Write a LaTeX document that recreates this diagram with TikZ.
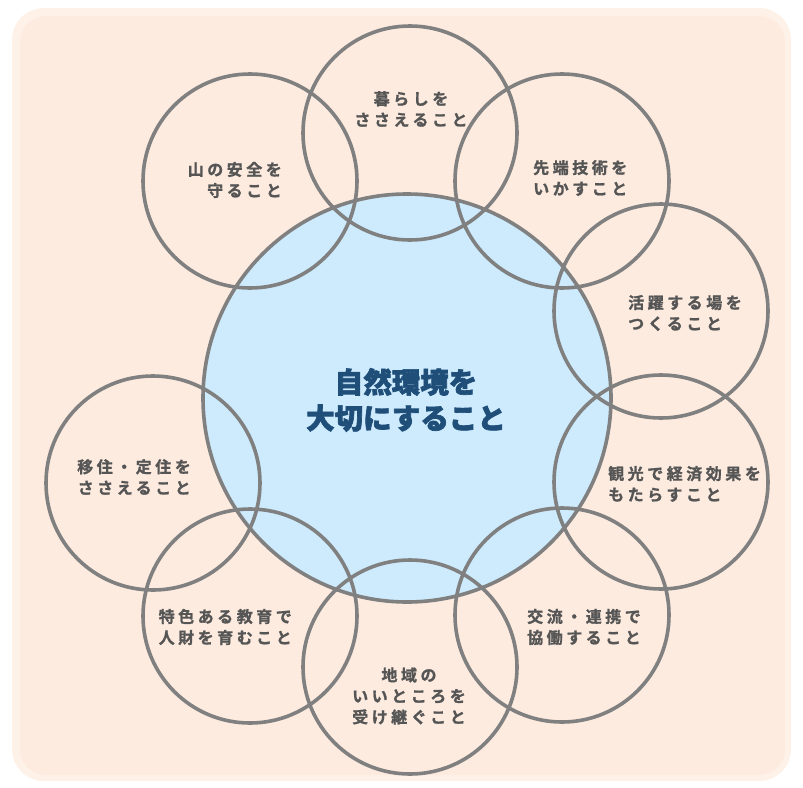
\documentclass[tikz,border=0pt]{standalone}
\usepackage{fontspec}
\newfontfamily\jplbl{Noto Sans CJK JP Bold}[FakeBold=1.2,LetterSpace=22]
\newfontfamily\jpttl{Noto Sans CJK JP Black}[FakeBold=2.4]
\definecolor{bgpeach}{HTML}{FDEBDF}
\definecolor{bgedge}{HTML}{FDF1E8}
\definecolor{centerblue}{HTML}{CDEBFD}
\definecolor{ringgray}{HTML}{808080}
\definecolor{txtgray}{HTML}{555555}
\definecolor{txtblue}{HTML}{1F4E79}
\tikzset{
  ring/.style={draw=ringgray, line width=3.6pt},
  lbl/.style={inner sep=0pt, text=txtgray, font=\jplbl\fontsize{16}{21}\selectfont},
  lblL/.style={lbl, anchor=west, align=left},
  lblR/.style={lbl, anchor=east, align=right},
  lblC/.style={lbl, anchor=center, align=center},
  ttl/.style={inner sep=0pt, text=txtblue, align=center, font=\jpttl\fontsize{28.5}{36}\selectfont}
}
\begin{document}
\begin{tikzpicture}[x=1pt,y=-1pt]
\useasboundingbox (0,0) rectangle (803,787);
\fill[white] (0,0) rectangle (803,787);
\fill[bgedge, rounded corners=32pt] (12,8) rectangle (791,781);
\fill[bgpeach, rounded corners=26pt] (20,16) rectangle (785,775);
% central circle
\fill[centerblue] (407,398) circle[radius=204];
% outer circle centres
\coordinate (c1) at (410,133);
\coordinate (c2) at (562,181);
\coordinate (c3) at (661,311);
\coordinate (c4) at (661,482);
\coordinate (c5) at (562,615);
\coordinate (c6) at (410,667);
\coordinate (c7) at (250,616);
\coordinate (c8) at (153,483);
\coordinate (c9) at (250,181);
\draw[ring] (407,398) circle[radius=204];
\foreach \c in {c1,c2,c3,c4,c5,c6,c7,c8,c9}{
  \draw[ring] (\c) circle[radius=107];
}
% central text
\node[ttl] (title) at (406,400) {自然環境を\\大切にすること};
% labels
\node[lblC] (t1) at (411,109) {暮らしを\\ささえること};
\node[lblL] (t2) at (533,178) {先端技術を\\いかすこと};
\node[lblL] (t3) at (628,313) {活躍する場を\\つくること};
\node[lblL] (t4) at (608,484) {観光で経済効果を\\もたらすこと};
\node[lblL] (t5) at (527,627) {交流・連携で\\協働すること};
\node[lblC] (t6) at (409,696) {地域の\\いいところを\\受け継ぐこと};
\node[lblR] (t7) at (292,627) {特色ある教育で\\人財を育むこと};
\node[lblR] (t8) at (191,477) {移住・定住を\\ささえること};
\node[lblR] (t9) at (282,180) {山の安全を\\守ること};
\end{tikzpicture}
\end{document}
